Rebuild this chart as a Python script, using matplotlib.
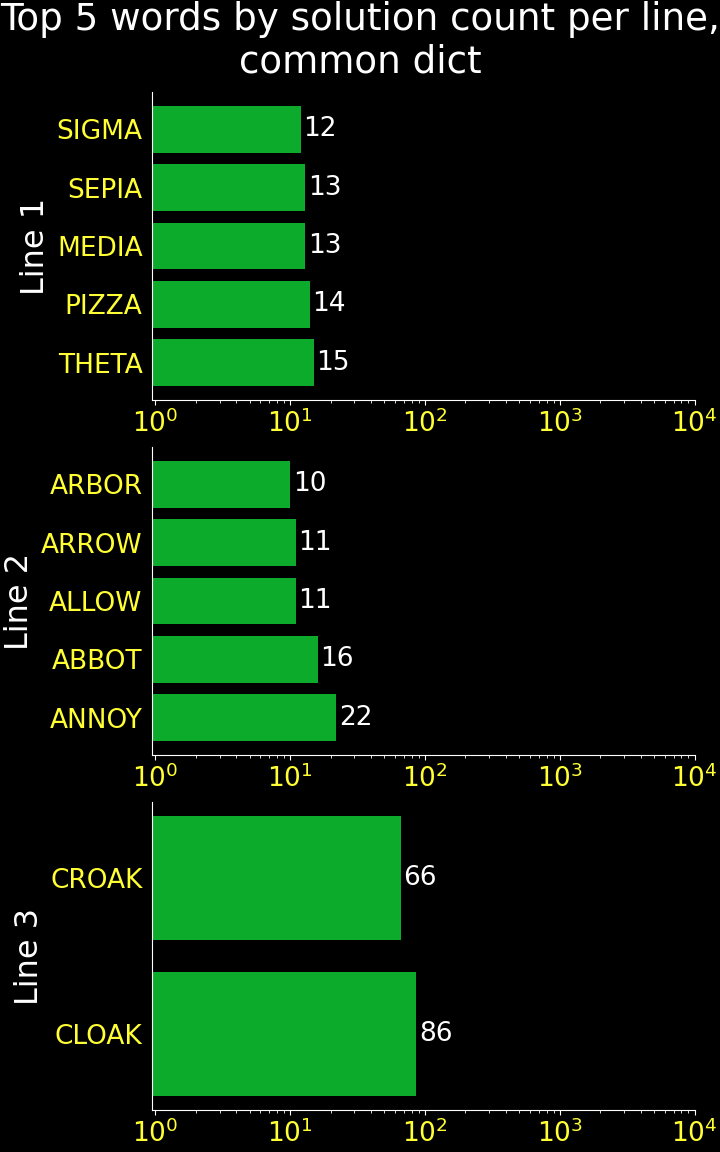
import matplotlib
matplotlib.use("Agg")
import matplotlib.pyplot as plt

# data per line (bottom to top as drawn)
line1_words = ["THETA", "PIZZA", "MEDIA", "SEPIA", "SIGMA"]
line1_counts = [15, 14, 13, 13, 12]
line2_words = ["ANNOY", "ABBOT", "ALLOW", "ARROW", "ARBOR"]
line2_counts = [22, 16, 11, 11, 10]
line3_words = ["CLOAK", "CROAK"]
line3_counts = [86, 66]

line_names = ["Line 1", "Line 2", "Line 3"]
all_words = [line1_words, line2_words, line3_words]
all_counts = [line1_counts, line2_counts, line3_counts]

bar_color = "#0dab2b"
label_color = "#ffff33"

fig = plt.figure(figsize=(7.2, 11.52), dpi=100, facecolor="black")
fig.suptitle("Top 5 words by solution count per line,\ncommon dict",
             color="white", fontsize=26.8, y=0.999)

# axes boxes in pixels (top, bottom)
boxes = [(92, 400), (447, 755), (802, 1110)]
W, H = 720, 1152
left_px, right_px = 152.3, 694.5

for (top, bot), name, words, counts in zip(boxes, line_names, all_words, all_counts):
    ax = fig.add_axes([left_px / W, 1 - bot / H, (right_px - left_px) / W, (bot - top) / H])
    ax.set_facecolor("black")
    bars = ax.barh(words, counts, color=bar_color, height=0.8)
    ax.set_xscale("log")
    ax.set_xlim(0.95, 1e4)
    ax.bar_label(bars, padding=2, color="white", fontsize=19)
    ax.set_ylabel(name, color="white", fontsize=23)
    for s in ["top", "right"]:
        ax.spines[s].set_visible(False)
    for s in ["left", "bottom"]:
        ax.spines[s].set_color("white")
    ax.tick_params(axis="y", length=0, pad=7, labelcolor=label_color, labelsize=19)
    ax.tick_params(axis="x", which="both", colors="white", labelcolor=label_color, labelsize=19)

fig.savefig("out.png", dpi=100, facecolor="black")
